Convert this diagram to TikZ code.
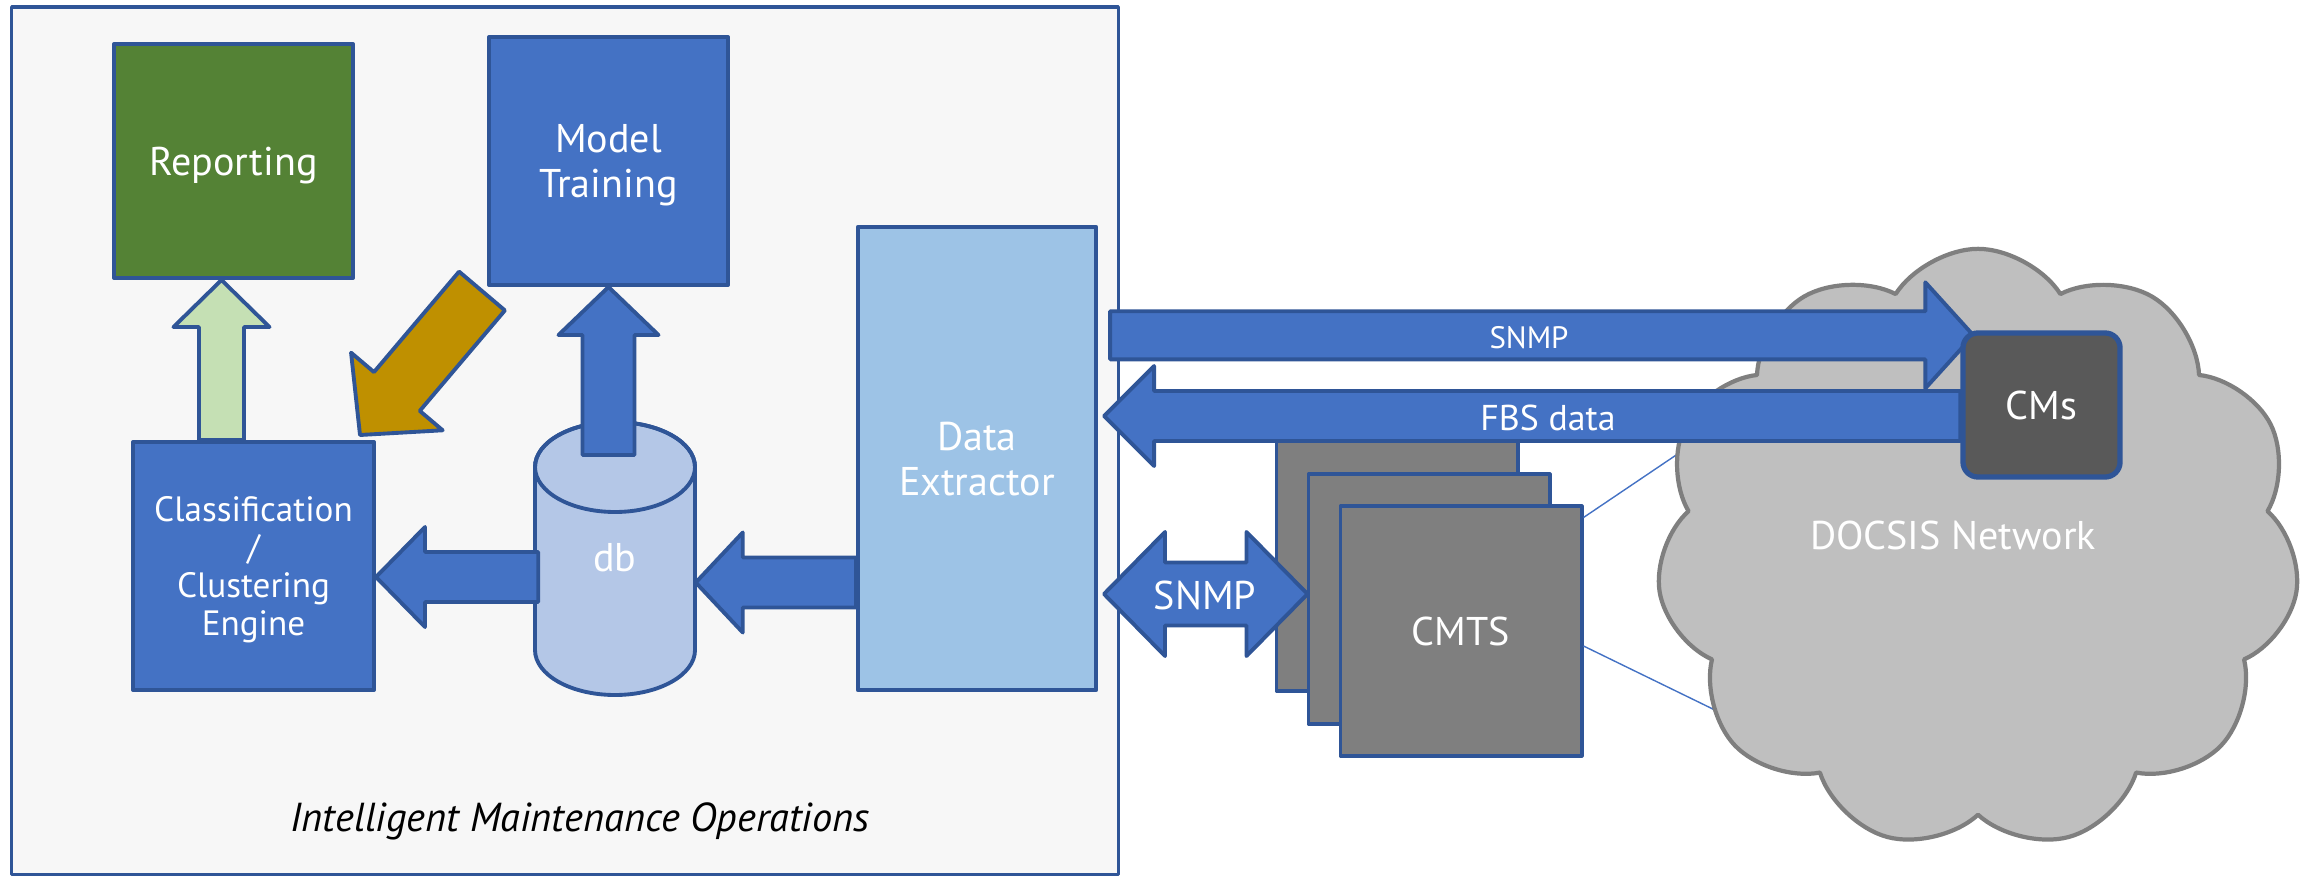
\documentclass[tikz,border=0pt]{standalone}
\usepackage{fontspec}
\setmainfont{PT Sans}
\usetikzlibrary{calc,positioning,shapes.symbols}
\definecolor{frameback}{HTML}{F7F7F7}
\definecolor{edgeblue}{HTML}{2F5597}
\definecolor{boxblue}{HTML}{4472C4}
\definecolor{repgreen}{HTML}{548235}
\definecolor{lightgreen}{HTML}{C5E0B4}
\definecolor{goldarr}{HTML}{BF9000}
\definecolor{dexblue}{HTML}{9DC3E6}
\definecolor{dbblue}{HTML}{B4C7E7}
\definecolor{cmtsgray}{HTML}{7F7F7F}
\definecolor{cmsgray}{HTML}{595959}
\definecolor{cloudgray}{HTML}{BFBFBF}
\newcommand{\bigtxt}{\fontsize{11.4}{12.8}\selectfont}
\pgfdeclarelayer{front}
\pgfsetlayers{main,front}
\tikzset{
  frame/.style={draw=edgeblue,line width=1pt,fill=frameback},
  box/.style={draw=edgeblue,line width=1.1pt,text=white,align=center,inner sep=2pt,text depth=0pt},
  cmtsbox/.style={box,fill=cmtsgray,minimum width=2.41cm,minimum height=2.49cm},
  barrow/.style={draw=edgeblue,line width=1.1pt,fill=boxblue},
  arrtxt/.style={text=white,inner sep=1pt},
  link/.style={boxblue,line width=0.4pt}
}
% block arrow: [style]{from}{tip}{shaft half width}{head half width}{head length}
\newcommand{\blockarrow}[6][]{%
  \path (#2) coordinate (ba-s) (#3) coordinate (ba-t);
  \path ($(ba-t)!#6!(ba-s)$) coordinate (ba-h);
  \draw[barrow,#1] ($(ba-s)!#4!90:(ba-t)$) -- ($(ba-h)!#4!90:(ba-t)$) -- ($(ba-h)!#5!90:(ba-t)$) -- (ba-t)
    -- ($(ba-h)!#5!-90:(ba-t)$) -- ($(ba-h)!#4!-90:(ba-t)$) -- ($(ba-s)!#4!-90:(ba-t)$) -- cycle;}
% two-headed block arrow: [style]{tip}{tip}{shaft half width}{head half width}{head length}
\newcommand{\twoblockarrow}[6][]{%
  \path (#2) coordinate (da-a) (#3) coordinate (da-b);
  \path ($(da-a)!#6!(da-b)$) coordinate (da-ha) ($(da-b)!#6!(da-a)$) coordinate (da-hb);
  \draw[barrow,#1] (da-a) -- ($(da-ha)!#5!90:(da-b)$) -- ($(da-ha)!#4!90:(da-b)$) -- ($(da-hb)!#4!-90:(da-a)$)
    -- ($(da-hb)!#5!-90:(da-a)$) -- (da-b) -- ($(da-hb)!#5!90:(da-a)$) -- ($(da-hb)!#4!90:(da-a)$)
    -- ($(da-ha)!#4!-90:(da-b)$) -- ($(da-ha)!#5!-90:(da-b)$) -- cycle;}

\begin{document}
\begin{tikzpicture}[x=0.01cm,y=-0.01cm,line join=round,font=\bigtxt]
\useasboundingbox (0,0) rectangle (2316,879);
% --- maintenance side
\node[frame,minimum width=11.06cm,minimum height=8.67cm] (imo) at (565,440.5) {};
\node[font=\fontsize{11.5}{13}\selectfont\itshape] (imolbl) at (580,821) {Intelligent Maintenance Operations};
\node[box,fill=repgreen,minimum width=2.39cm,minimum height=2.34cm] (rep) at (233.5,161) {Reporting};
\node[box,fill=boxblue,minimum width=2.39cm,minimum height=2.48cm] (mt) at (608.5,161) {Model\\Training};
\node[box,fill=dexblue,minimum width=2.38cm,minimum height=4.63cm] (dex) at (977,458.5) {Data\\Extractor};
\node[box,fill=boxblue,minimum width=2.41cm,minimum height=2.48cm,font=\fontsize{10}{10.8}\selectfont] (cls) at (253.5,566) {Classification\\/\\Clustering\\Engine};
\draw[draw=edgeblue,line width=1.1pt,fill=dbblue] (535,467) -- (535,650) arc[start angle=180,end angle=0,x radius=80,y radius=45]
  -- (695,467) arc[start angle=0,end angle=-180,x radius=80,y radius=45] -- cycle;
\draw[draw=edgeblue,line width=1.1pt] (615,467) ellipse[x radius=80,y radius=45];
\node[minimum width=1.6cm,minimum height=2.74cm,text=white] (db) at (615,558) {db};
% --- network side
\node[cmtsbox] (cmtsc) at (1397,566) {};
\node[cmtsbox] (cmtsb) at (1429,599) {};
\node[cmtsbox] (cmts) at (1461,631) {CMTS};
\coordinate (lk1) at (1691,445);
\coordinate (lk2) at (1760,732);
\draw[link] ($(cmts.north east)+(0,13)$) -- (lk1);
\draw[link] ($(cmts.east)+(0,15)$) -- (lk2);
\node[cloud,cloud puffs=11,cloud puff arc=115,aspect=1.07,draw=cmtsgray,line width=1.2pt,fill=cloudgray,
  minimum width=6.43cm,minimum height=6.0cm] (net) at (1978,549) {};
\node[text=white,font=\fontsize{11.4}{13}\selectfont] (netlbl) at (1953,535) {DOCSIS Network};
\begin{pgfonlayer}{front}
\node[box,fill=cmsgray,line width=1.5pt,rounded corners=0.15cm,minimum width=1.57cm,minimum height=1.44cm] (cms) at (2041.5,405) {CMs};
\end{pgfonlayer}
% --- block arrows
\blockarrow[fill=lightgreen]{$(cls.north)+(-32,0)$}{$(rep.south)+(-12,0)$}{0.225cm}{0.48cm}{0.47cm}
\blockarrow{$(mt.south)+(0,168)$}{mt.south}{0.26cm}{0.5cm}{0.48cm}
\blockarrow[fill=goldarr]{$(mt.south west)+(-5,4)$}{$(cls.north east)+(-16,-5)$}{0.3cm}{0.6cm}{0.57cm}
\coordinate (dbout) at ($(db.west)+(4,19)$);
\blockarrow{dbout}{dbout -| cls.east}{0.25cm}{0.5cm}{0.49cm}
\coordinate (dexout) at ($(dex.west)+(0,124)$);
\blockarrow{dexout}{dexout -| db.east}{0.25cm}{0.5cm}{0.47cm}
\coordinate (snmptip) at ($(cms.north west)+(13,5)$);
\blockarrow{$(snmptip -| imo.east)+(-10,0)$}{snmptip}{0.24cm}{0.53cm}{0.48cm}
\coordinate (fbsout) at ($(cms.west)+(0,11)$);
\blockarrow{fbsout}{$(fbsout -| imo.east)+(-16,0)$}{0.25cm}{0.5cm}{0.5cm}
\coordinate (snmpl) at ($(dex.east)+(6,135.5)$);
\twoblockarrow{snmpl}{$(snmpl -| cmts.west)+(-31,0)$}{0.315cm}{0.62cm}{0.61cm}
\node[arrtxt,font=\fontsize{8.8}{10}\selectfont] (snmptxt) at (1529,338) {SNMP};
\node[arrtxt,font=\fontsize{10.2}{11}\selectfont] (fbstxt) at (1548,418) {FBS data};
\node[arrtxt] (snmpbtxt) at (1205,595) {SNMP};
\end{tikzpicture}
\end{document}
